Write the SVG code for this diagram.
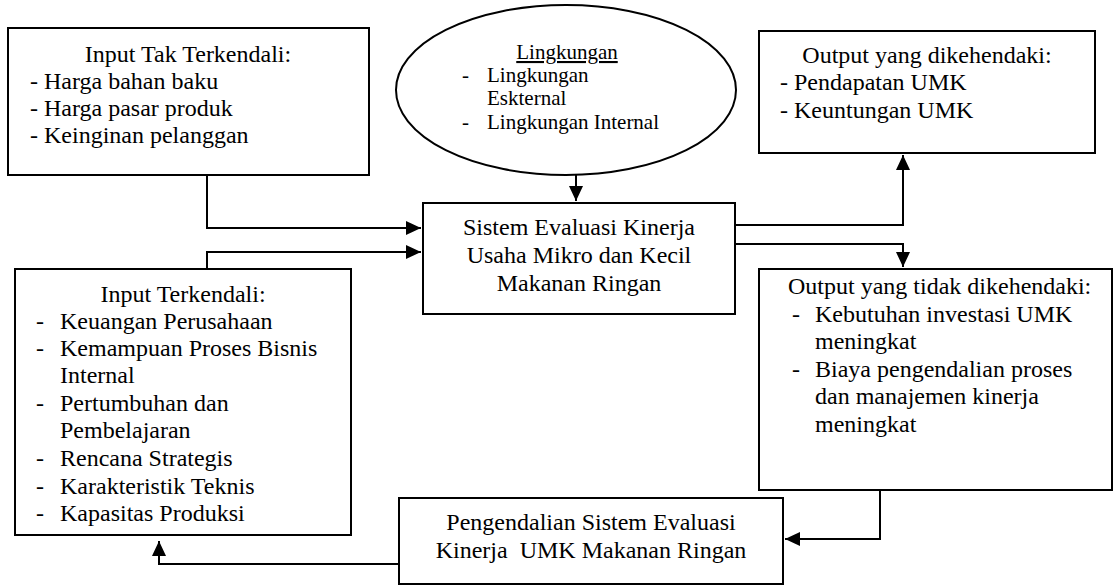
<svg xmlns="http://www.w3.org/2000/svg" width="1114" height="586" viewBox="0 0 1114 586">
<style>
.box{fill:#fff;stroke:#000;stroke-width:2}
.t{font-family:"Liberation Serif","Times New Roman",serif;font-size:24px;fill:#000}
.te{font-family:"Liberation Serif","Times New Roman",serif;font-size:21px;fill:#000}
.c{text-anchor:middle}
.con{fill:none;stroke:#000;stroke-width:2}
</style>
<defs>
<marker id="ah" markerUnits="userSpaceOnUse" markerWidth="16" markerHeight="14" refX="15" refY="7" orient="auto">
<path d="M0,0 L15,7 L0,14 z" fill="#000"/>
</marker>
</defs>
<rect width="1114" height="586" fill="#fff"/>
<g id="connectors">
<path class="con" d="M207,175 V228 H421" marker-end="url(#ah)"/>
<path class="con" d="M207,269 V252 H421" marker-end="url(#ah)"/>
<path class="con" d="M576,175 V201" marker-end="url(#ah)"/>
<path class="con" d="M735,225 H903 V155" marker-end="url(#ah)"/>
<path class="con" d="M735,244 H903 V267" marker-end="url(#ah)"/>
<path class="con" d="M880,490 V539 H785" marker-end="url(#ah)"/>
<path class="con" d="M399,564 H159 V541" marker-end="url(#ah)"/>
</g>
<g id="input-tak-terkendali">
<rect class="box" x="8" y="28" width="361" height="147"/>
<text class="t c" x="188" y="62">Input Tak Terkendali:</text>
<text class="t" x="30" y="89">- Harga bahan baku</text>
<text class="t" x="30" y="116">- Harga pasar produk</text>
<text class="t" x="30" y="143">- Keinginan pelanggan</text>
</g>
<g id="lingkungan">
<ellipse class="box" cx="566" cy="90" rx="170" ry="85" stroke-width="1.6"/>
<text class="te c" x="567" y="59" text-decoration="underline">Lingkungan</text>
<text class="te" x="462" y="82">-</text>
<text class="te" x="487" y="82">Lingkungan</text>
<text class="te" x="487" y="105">Eskternal</text>
<text class="te" x="462" y="129">-</text>
<text class="te" x="487" y="129">Lingkungan Internal</text>
</g>
<g id="sistem-evaluasi">
<rect class="box" x="423" y="203" width="312" height="111"/>
<text class="t c" x="579" y="235">Sistem Evaluasi Kinerja</text>
<text class="t c" x="579" y="263">Usaha Mikro dan Kecil</text>
<text class="t c" x="579" y="291">Makanan Ringan</text>
</g>
<g id="output-dikehendaki">
<rect class="box" x="759" y="31" width="336" height="122"/>
<text class="t c" x="927" y="63">Output yang dikehendaki:</text>
<text class="t" x="780" y="90">- Pendapatan UMK</text>
<text class="t" x="780" y="118">- Keuntungan UMK</text>
</g>
<g id="input-terkendali">
<rect class="box" x="15" y="269" width="336" height="266"/>
<text class="t c" x="183" y="302">Input Terkendali:</text>
<text class="t" x="36" y="329">-</text><text class="t" x="60" y="329">Keuangan Perusahaan</text>
<text class="t" x="36" y="356">-</text><text class="t" x="60" y="356">Kemampuan Proses Bisnis</text>
<text class="t" x="60" y="383">Internal</text>
<text class="t" x="36" y="411">-</text><text class="t" x="60" y="411">Pertumbuhan dan</text>
<text class="t" x="60" y="438">Pembelajaran</text>
<text class="t" x="36" y="466">-</text><text class="t" x="60" y="466">Rencana Strategis</text>
<text class="t" x="36" y="494">-</text><text class="t" x="60" y="494">Karakteristik Teknis</text>
<text class="t" x="36" y="521">-</text><text class="t" x="60" y="521">Kapasitas Produksi</text>
</g>
<g id="output-tidak-dikehendaki">
<rect class="box" x="759" y="269" width="353" height="221"/>
<text class="t" x="788" y="294">Output yang tidak dikehendaki:</text>
<text class="t" x="792" y="322">-</text><text class="t" x="815" y="322">Kebutuhan investasi UMK</text>
<text class="t" x="815" y="349">meningkat</text>
<text class="t" x="792" y="377">-</text><text class="t" x="815" y="377">Biaya pengendalian proses</text>
<text class="t" x="815" y="404">dan manajemen kinerja</text>
<text class="t" x="815" y="432">meningkat</text>
</g>
<g id="pengendalian">
<rect class="box" x="399" y="498" width="384" height="86"/>
<text class="t c" x="591" y="530">Pengendalian Sistem Evaluasi</text>
<text class="t c" x="591" y="558" xml:space="preserve">Kinerja  UMK Makanan Ringan</text>
</g>
</svg>
